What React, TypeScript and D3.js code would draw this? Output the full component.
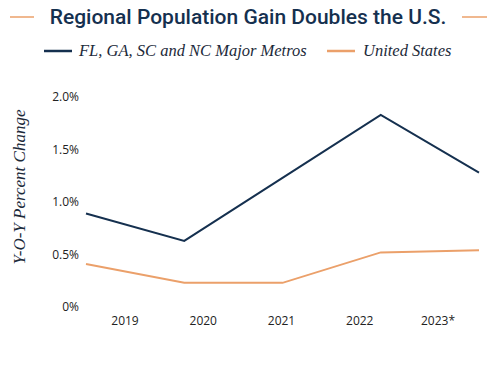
import React, { useRef, useEffect } from "react";
import * as d3 from "d3";

const years = ["2019", "2020", "2021", "2022", "2023*"];
const metrosValues = [0.89, 0.63, 1.23, 1.83, 1.28];
const usValues = [0.41, 0.23, 0.23, 0.52, 0.54];
const yTicks = [0, 0.5, 1.0, 1.5, 2.0];
const yTickLabels = ["0%", "0.5%", "1.0%", "1.5%", "2.0%"];
const seriesNames = ["FL, GA, SC and NC Major Metros", "United States"];

const NAVY = "#15304f";
const ORANGE = "#eba06a";

function drawChart(el: SVGSVGElement) {
  const svg = d3.select(el);
  svg.selectAll("*").remove();

  const y = d3.scaleLinear().domain([0, 2]).range([307, 97]);
  const x = d3.scalePoint<string>().domain(years).range([86, 479]);
  const xLabel = d3.scalePoint<string>().domain(years).range([125, 438]);

  // title with side rules
  svg
    .append("text")
    .attr("x", 248)
    .attr("y", 24)
    .attr("text-anchor", "middle")
    .style("font-family", "Roboto, sans-serif")
    .style("font-weight", 500)
    .style("font-size", "21px")
    .style("fill", NAVY)
    .text("Regional Population Gain Doubles the U.S.");
  [
    [10, 34],
    [462, 487],
  ].forEach(([a, b]) => {
    svg
      .append("line")
      .attr("x1", a)
      .attr("x2", b)
      .attr("y1", 17)
      .attr("y2", 17)
      .style("stroke", ORANGE)
      .style("stroke-width", 1.5);
  });

  // legend
  const legend = [
    { name: seriesNames[0], color: NAVY, x0: 44, tx: 79 },
    { name: seriesNames[1], color: ORANGE, x0: 327, tx: 363 },
  ];
  legend.forEach((l) => {
    svg
      .append("line")
      .attr("x1", l.x0)
      .attr("x2", l.x0 + 28)
      .attr("y1", 51)
      .attr("y2", 51)
      .style("stroke", l.color)
      .style("stroke-width", 2.5);
    svg
      .append("text")
      .attr("x", l.tx)
      .attr("y", 56)
      .style("font-family", "'Liberation Serif', serif")
      .style("font-style", "italic")
      .style("font-size", "16.5px")
      .style("fill", "#1c2a3a")
      .text(l.name);
  });

  // y axis labels
  svg
    .append("g")
    .selectAll("text")
    .data(yTicks)
    .enter()
    .append("text")
    .attr("x", 79)
    .attr("y", (d) => y(d) + 4)
    .attr("text-anchor", "end")
    .style("font-family", "'Open Sans', sans-serif")
    .style("font-size", "12px")
    .style("fill", "#222")
    .text((d, i) => yTickLabels[i]);

  svg
    .append("text")
    .attr("transform", "translate(25, 187) rotate(-90)")
    .attr("text-anchor", "middle")
    .style("font-family", "'Liberation Serif', serif")
    .style("font-style", "italic")
    .style("font-size", "17px")
    .style("fill", "#1c2a3a")
    .text("Y-O-Y Percent Change");

  // x labels
  svg
    .append("g")
    .selectAll("text")
    .data(years)
    .enter()
    .append("text")
    .attr("x", (d) => xLabel(d) as number)
    .attr("y", 325)
    .attr("text-anchor", "middle")
    .style("font-family", "'Open Sans', sans-serif")
    .style("font-size", "12px")
    .style("fill", "#222")
    .text((d) => d);

  const line = d3
    .line<number>()
    .x((d, i) => x(years[i]) as number)
    .y((d) => y(d));

  svg
    .append("path")
    .attr("d", line(usValues))
    .style("fill", "none")
    .style("stroke", ORANGE)
    .style("stroke-width", 2);
  svg
    .append("path")
    .attr("d", line(metrosValues))
    .style("fill", "none")
    .style("stroke", NAVY)
    .style("stroke-width", 2);
}

const App: React.FunctionComponent = function () {
  const ref = useRef<SVGSVGElement>(null);
  useEffect(() => {
    if (ref.current == null) return;
    drawChart(ref.current);
  }, []);
  return (
    <svg
      ref={ref}
      width={498}
      height={365}
      style={{ position: "absolute", left: 0, top: 0, background: "#fff" }}
    />
  );
};

export default App;
